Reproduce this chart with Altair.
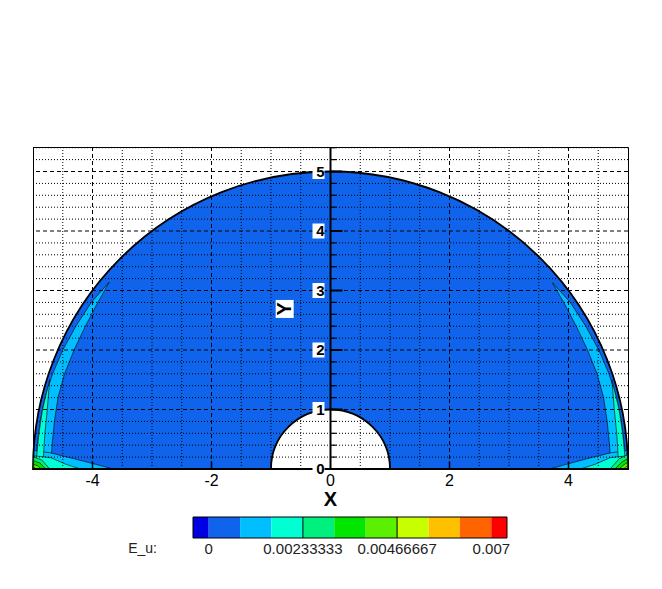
import math
import altair as alt
import pandas as pd

# ---------------- data ----------------
# semi-annulus domain (radii in X/Y units)
ring_outer_r = [5.0]
ring_inner_r = [1.0]

# light-blue crescent along the outer arc (left / right): y -> x_outer, x_inner
lc_y = [3.14, 2.8, 2.4, 2.0, 1.6, 1.2, 0.8, 0.4, 0.25, 0.0]
lc_xo = [-3.72, -4.02, -4.28, -4.50, -4.67, -4.80, -4.88, -4.93, -4.94, -4.97]
lc_xi = [-3.72, -3.91, -4.12, -4.31, -4.47, -4.58, -4.64, -4.68, -4.69, -4.70]
rc_y = [3.13, 2.8, 2.4, 2.0, 1.6, 1.2, 0.8, 0.4, 0.25, 0.0]
rc_xo = [3.73, 4.03, 4.29, 4.51, 4.68, 4.81, 4.89, 4.94, 4.95, 4.98]
rc_xi = [3.73, 3.92, 4.13, 4.32, 4.48, 4.59, 4.65, 4.69, 4.70, 4.71]

# turquoise inner crescent
lt_y = [1.5, 1.0, 0.6, 0.3, 0.0]
lt_xo = [-4.72, -4.84, -4.90, -4.93, -4.96]
lt_xi = [-4.72, -4.76, -4.80, -4.82, -4.83]
rt_y = [1.5, 1.0, 0.6, 0.3, 0.0]
rt_xo = [4.73, 4.85, 4.91, 4.94, 4.97]
rt_xi = [4.73, 4.77, 4.81, 4.83, 4.84]

# bottom wedges (x -> y_top)
lw_x = [-4.98, -4.7, -4.3, -3.95, -3.65]
lw_y = [0.31, 0.27, 0.17, 0.08, 0.0]
rw_x = [3.68, 3.97, 4.3, 4.7, 4.98]
rw_y = [0.0, 0.08, 0.17, 0.27, 0.31]
ltw_x = [-4.97, -4.7, -4.45, -4.2]
ltw_y = [0.22, 0.19, 0.08, 0.0]
rtw_x = [4.2, 4.45, 4.7, 4.97]
rtw_y = [0.0, 0.08, 0.19, 0.22]

# corner spots (x -> y_top), one list per contour level
lg1_x = [-4.99, -4.85, -4.72]; lg1_y = [0.20, 0.15, 0.0]
lg2_x = [-4.99, -4.88, -4.79]; lg2_y = [0.14, 0.10, 0.0]
lg3_x = [-4.99, -4.92, -4.86]; lg3_y = [0.08, 0.05, 0.0]
lg4_x = [-4.99, -4.95]; lg4_y = [0.04, 0.0]
rg1_x = [4.70, 4.85, 4.99]; rg1_y = [0.0, 0.17, 0.24]
rg2_x = [4.78, 4.90, 4.99]; rg2_y = [0.0, 0.12, 0.17]
rg3_x = [4.85, 4.93, 4.99]; rg3_y = [0.0, 0.07, 0.11]
rg4_x = [4.92, 4.99]; rg4_y = [0.0, 0.05]

# contour levels and colors
level_values = [0.0, 0.000777778, 0.00155556, 0.00233333, 0.00311111,
                0.00388889, 0.00466667, 0.00544444, 0.00622222, 0.007]
band_colors = ["#0000E0", "#0F64EB", "#00BEFF", "#00FFD2", "#00F080",
               "#00E600", "#5AF000", "#C8FF00", "#FFC000", "#FF6400", "#FF0000"]
cbar_label_values = [0.0, 0.00233333, 0.00466667, 0.007]
cbar_labels = ["0", "0.00233333", "0.00466667", "0.007"]
cbar_lines = [0.00233333, 0.00466667]

# axes
x_tick_values = [-4, -2, 0, 2, 4]
x_tick_labels = ["-4", "-2", "0", "2", "4"]
y_tick_values = [0, 1, 2, 3, 4, 5]
y_tick_labels = ["0", "1", "2", "3", "4", "5"]
x_major_grid = [-4, -2, 2, 4]
x_minor_grid = [-4.5, -3.5, -3, -2.5, -1.5, -1, -0.5, 0.5, 1, 1.5, 2.5, 3, 3.5, 4.5]
y_major_grid = [1, 2, 3, 4, 5]
y_minor_grid = [0.2, 0.4, 0.6, 0.8, 1.2, 1.4, 1.6, 1.8, 2.2, 2.4, 2.6, 2.8,
                3.2, 3.4, 3.6, 3.8, 4.2, 4.4, 4.6, 4.8, 5.2, 5.4]
y_minor_ticks = [0.2, 0.4, 0.6, 0.8, 1.2, 1.4, 1.6, 1.8, 2.2, 2.4, 2.6, 2.8,
                 3.2, 3.4, 3.6, 3.8, 4.2, 4.4, 4.6, 4.8, 5.2, 5.4]

# ---------------- chart ----------------
W, H = 595, 322
XMIN, XMAX = -5.0, 5.0
YMAX = 5.412
PX = W / (XMAX - XMIN)
FONT = "Liberation Sans"

XS = alt.Scale(domain=[XMIN, XMAX], nice=False, zero=False)
YS = alt.Scale(domain=[0, YMAX], nice=False, zero=False)
RS = alt.Scale(type="linear", domain=[0, 5], range=[0, 5 * PX], zero=True, nice=False)


def X(f=None, **kw):
    if f is None:
        return alt.X(scale=XS, axis=None, **kw)
    return alt.X(f, scale=XS, axis=None, **kw)


def Y(f=None, **kw):
    if f is None:
        return alt.Y(scale=YS, axis=None, **kw)
    return alt.Y(f, scale=YS, axis=None, **kw)


BLUE = band_colors[1]

ring = alt.Chart(pd.DataFrame({"ro": ring_outer_r, "ri": ring_inner_r})).mark_arc(
    theta=1.5 * math.pi, theta2=2.5 * math.pi, color=BLUE, stroke="black", strokeWidth=1.8
).encode(
    x=X(datum=0), y=Y(datum=0),
    radius=alt.Radius("ro:Q", scale=RS), radius2="ri:Q",
)


def harea(ys, xo, xi, color):
    df = pd.DataFrame({"y": ys, "xo": xo, "xi": xi})
    return alt.Chart(df).mark_area(orient="horizontal", color=color, stroke="black",
                                   strokeWidth=0.6).encode(
        y=Y("y:Q"), x=X("xo:Q"), x2="xi:Q")


def varea(xs, ys, color):
    df = pd.DataFrame({"x": xs, "y": ys})
    return alt.Chart(df).mark_area(orient="vertical", color=color, stroke="black",
                                   strokeWidth=0.6).encode(
        x=X("x:Q"), y=Y("y:Q"), y2=alt.Y2(datum=0))


LB, TQ, G1, G2, G3, G4 = band_colors[2], band_colors[3], band_colors[4], band_colors[5], band_colors[6], band_colors[7]

fills = [
    harea(lc_y, lc_xo, lc_xi, LB), harea(rc_y, rc_xo, rc_xi, LB),
    varea(lw_x, lw_y, LB), varea(rw_x, rw_y, LB),
    harea(lt_y, lt_xo, lt_xi, TQ), harea(rt_y, rt_xo, rt_xi, TQ),
    varea(ltw_x, ltw_y, TQ), varea(rtw_x, rtw_y, TQ),
    varea(lg1_x, lg1_y, G1), varea(rg1_x, rg1_y, G1),
    varea(lg2_x, lg2_y, G2), varea(rg2_x, rg2_y, G2),
    varea(lg3_x, lg3_y, G3), varea(rg3_x, rg3_y, G3),
    varea(lg4_x, lg4_y, G4), varea(rg4_x, rg4_y, G4),
]


def vrules(vals, dash, width=1):
    return alt.Chart(pd.DataFrame({"v": vals})).mark_rule(
        color="black", strokeWidth=width, strokeDash=dash).encode(x=X("v:Q"))


def hrules(vals, dash, width=1):
    return alt.Chart(pd.DataFrame({"v": vals})).mark_rule(
        color="black", strokeWidth=width, strokeDash=dash).encode(y=Y("v:Q"))


grid = [
    vrules(x_minor_grid, [1, 2]), hrules(y_minor_grid, [1, 2]),
    vrules(x_major_grid, [4, 3]), hrules(y_major_grid, [4, 3]),
]

base = alt.Chart(pd.DataFrame({"d": [0]}))
axis_lines = [
    base.mark_rule(color="black", strokeWidth=2).encode(y=Y(datum=0), x=X(datum=XMIN), x2=alt.X2(datum=XMAX)),
    base.mark_rule(color="black", strokeWidth=2).encode(x=X(datum=0), y=Y(datum=0), y2=alt.Y2(datum=YMAX)),
]

yt_major = alt.Chart(pd.DataFrame({"v": y_tick_values})).mark_rule(
    color="black", strokeWidth=2).encode(y=Y("v:Q"), x=X(datum=0), x2=alt.X2(datum=0.2))
yt_minor = alt.Chart(pd.DataFrame({"v": y_minor_ticks})).mark_rule(
    color="black", strokeWidth=1.2).encode(y=Y("v:Q"), x=X(datum=0), x2=alt.X2(datum=0.1))
xt_major = alt.Chart(pd.DataFrame({"v": x_major_grid})).mark_rule(
    color="black", strokeWidth=1.5).encode(x=X("v:Q"), y=Y(datum=0), y2=alt.Y2(datum=0.13))

ylab_df = pd.DataFrame({"v": y_tick_values, "t": y_tick_labels})
ylab_box = alt.Chart(ylab_df).mark_rect(color="white", width=12, height=15, xOffset=-12).encode(
    x=X(datum=0), y=Y("v:Q"))
ylab = alt.Chart(ylab_df).mark_text(align="right", baseline="middle", dx=-6, fontSize=15,
                                    fontWeight="bold", font=FONT, color="black").encode(
    x=X(datum=0), y=Y("v:Q"), text="t:N")

xlab = alt.Chart(pd.DataFrame({"v": x_tick_values, "t": x_tick_labels})).mark_text(
    align="center", baseline="middle", dy=12, fontSize=16, font=FONT, color="black").encode(
    x=X("v:Q"), y=Y(datum=0), text="t:N")

xtitle = base.mark_text(text="X", fontSize=20, fontWeight="bold", font=FONT, dy=31,
                        baseline="middle", color="black").encode(x=X(datum=0), y=Y(datum=0))
ytitle_box = base.mark_rect(color="white", width=18, height=18).encode(x=X(datum=-0.77), y=Y(datum=2.69))
ytitle = base.mark_text(text="Y", fontSize=20, fontWeight="bold", font=FONT, angle=270,
                        baseline="middle", align="center", color="black").encode(
    x=X(datum=-0.77), y=Y(datum=2.69))

main = alt.layer(ring, *fills, *grid, *axis_lines, yt_minor, yt_major, xt_major,
                 ylab_box, ylab, xlab, xtitle, ytitle_box, ytitle)

# ---------------- colour bar ----------------
half = (level_values[1] - level_values[0]) / 2
seg_lo = [level_values[0] - half] + level_values
seg_hi = level_values + [level_values[-1] + half]
CS = alt.Scale(domain=[seg_lo[0], seg_hi[-1]], range=[160, 474], nice=False, zero=False)
BAR_TOP, BAR_BOT, LAB_Y = 370, 391, 402

seg_df = pd.DataFrame({"lo": seg_lo, "hi": seg_hi, "c": band_colors})
cbar = alt.Chart(seg_df).mark_rect().encode(
    x=alt.X("lo:Q", scale=CS, axis=None), x2="hi:Q",
    y=alt.value(BAR_TOP), y2=alt.value(BAR_BOT), color=alt.Color("c:N", scale=None))
cbar_frame = alt.Chart(pd.DataFrame({"lo": [seg_lo[0]], "hi": [seg_hi[-1]]})).mark_rect(
    fill=None, stroke="black", strokeWidth=1).encode(
    x=alt.X("lo:Q", scale=CS, axis=None), x2="hi:Q", y=alt.value(BAR_TOP), y2=alt.value(BAR_BOT))
cbar_rules = alt.Chart(pd.DataFrame({"v": cbar_lines})).mark_rule(color="black", strokeWidth=1).encode(
    x=alt.X("v:Q", scale=CS, axis=None), y=alt.value(BAR_TOP), y2=alt.value(BAR_BOT))
cbar_text = alt.Chart(pd.DataFrame({"v": cbar_label_values, "t": cbar_labels})).mark_text(
    fontSize=15, font=FONT, color="#222222", baseline="middle", align="center").encode(
    x=alt.X("v:Q", scale=CS, axis=None), y=alt.value(LAB_Y), text="t:N")
cbar_title = base.mark_text(text="E_u:", fontSize=14, font=FONT, color="#222222",
                            baseline="middle", align="right").encode(
    x=alt.value(124), y=alt.value(LAB_Y))

colorbar = alt.layer(cbar, cbar_frame, cbar_rules, cbar_text, cbar_title)

chart = alt.layer(main, colorbar).resolve_scale(x="independent").properties(
    width=W, height=H,
    autosize=alt.AutoSizeParams(type="none"),
    padding={"left": 25, "top": 139, "right": 18, "bottom": 92},
).configure_view(stroke="black", strokeWidth=1)

chart.save("out.html", embed_options={"renderer": "svg", "actions": False})
